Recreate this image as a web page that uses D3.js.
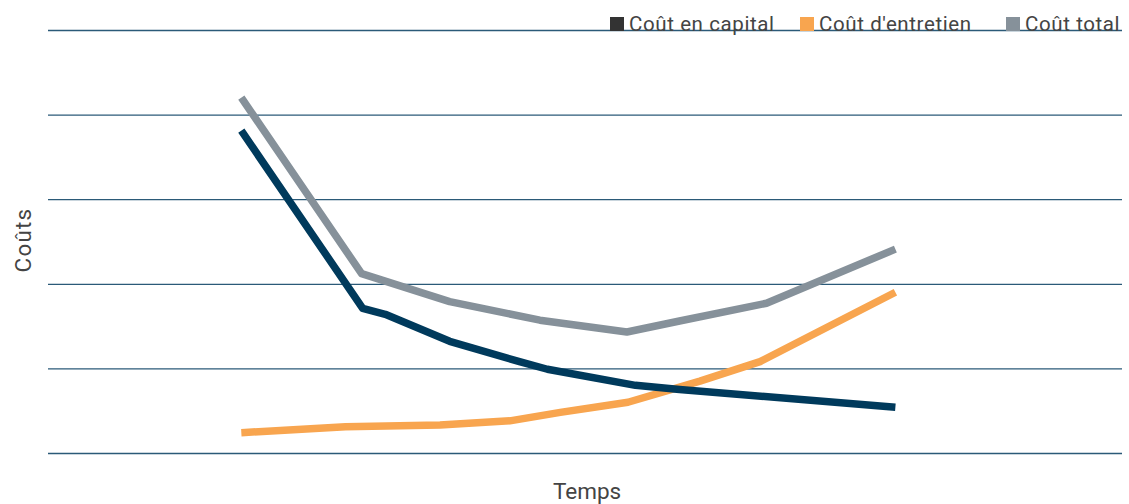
<!DOCTYPE html>
<html>
<head>
<meta charset="utf-8">
<script src="https://cdn.jsdelivr.net/npm/d3@7"></script>
<style>
  html, body { margin: 0; padding: 0; background: #fff; }
  svg text { font-family: Roboto, "Noto Sans", sans-serif; fill: #444; }
</style>
</head>
<body>
<svg id="chart" width="1129" height="504"></svg>
<script>
// Time on a 0–100 scale, costs on a 0–5 scale
const yTicks = [0, 1, 2, 3, 4, 5];

const capitalTime  = [18, 29.3, 31.4, 37.4, 43.9, 46.5, 54.7, 58.8, 78.9];
const capitalCost  = [3.81, 1.71, 1.64, 1.32, 1.08, 0.99, 0.80, 0.75, 0.54];

const entretienTime = [18, 27.7, 36.5, 43.0, 47.7, 54.0, 60.7, 66.3, 78.9];
const entretienCost = [0.24, 0.31, 0.33, 0.38, 0.48, 0.60, 0.85, 1.08, 1.90];

const totalTime = [18, 29.2, 37.4, 45.8, 53.9, 58.8, 66.9, 78.9];
const totalCost = [4.20, 2.12, 1.79, 1.57, 1.43, 1.56, 1.77, 2.41];

const seriesNames  = ["Coût en capital", "Coût d'entretien", "Coût total"];
const seriesColors = ["#003a5c", "#f8a54f", "#86919a"];
const legendSwatch = ["#333333", "#f8a54f", "#86919a"];

const svg = d3.select("#chart");
const x = d3.scaleLinear().domain([0, 100]).range([48, 1122]);
const y = d3.scaleLinear().domain([0, 5]).range([453, 30]);

// horizontal grid
const yAxis = d3.axisLeft(y).tickValues(yTicks).tickSize(-(1122 - 48)).tickFormat("");
const g = svg.append("g").attr("transform", "translate(48,0)").call(yAxis);
g.select(".domain").remove();
g.selectAll(".tick line").attr("stroke", "#2b5a78").attr("stroke-width", 1.3);

const line = d3.line().x(d => x(d[0])).y(d => y(d[1]));
const series = [
  { t: capitalTime, v: capitalCost, c: seriesColors[0] },
  { t: entretienTime, v: entretienCost, c: seriesColors[1] },
  { t: totalTime, v: totalCost, c: seriesColors[2] }
];
// draw order: total, entretien, capital on top where they cross
[series[2], series[1], series[0]].forEach(s => {
  svg.append("path")
    .datum(d3.zip(s.t, s.v))
    .attr("d", line)
    .attr("fill", "none")
    .attr("stroke", s.c)
    .attr("stroke-width", 7.5)
    .attr("stroke-linejoin", "round");
});

// legend
const legendX = [610, 800, 1006];
seriesNames.forEach((name, i) => {
  svg.append("rect").attr("x", legendX[i]).attr("y", 17).attr("width", 14).attr("height", 14)
    .attr("fill", legendSwatch[i]);
  svg.append("text").attr("x", legendX[i] + 19).attr("y", 31)
    .attr("font-size", 20.5).attr("letter-spacing", 0.6).text(name);
});

// axis titles
svg.append("text").attr("transform", "translate(31,240) rotate(-90)")
  .attr("text-anchor", "middle").attr("font-size", 22.5).attr("letter-spacing", 1.2).text("Coûts");
svg.append("text").attr("x", 587).attr("y", 499)
  .attr("text-anchor", "middle").attr("font-size", 22.5).text("Temps");
</script>
</body>
</html>
